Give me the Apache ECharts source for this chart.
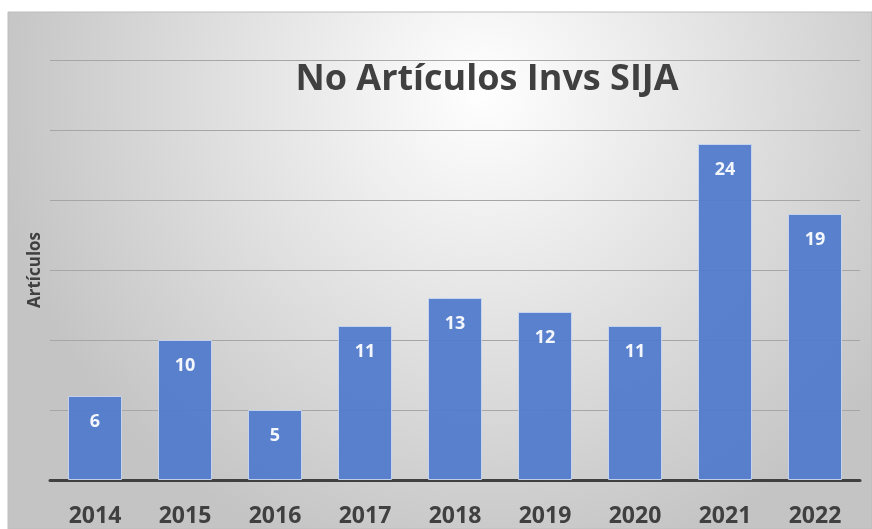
<!DOCTYPE html>
<html>
<head>
<meta charset="utf-8">
<script src="https://cdn.jsdelivr.net/npm/echarts@6/dist/echarts.min.js"></script>
<style>
  html, body { margin: 0; padding: 0; background: #fff; }
  #chart { width: 872px; height: 529px; }
</style>
</head>
<body>
<div id="chart"></div>
<script>
// datos del gráfico
var years = ['2014', '2015', '2016', '2017', '2018', '2019', '2020', '2021', '2022'];
var articulos = [6, 10, 5, 11, 13, 12, 11, 24, 19];
var titulo = 'No Artículos Invs SIJA';
var nombreEje = 'Artículos';

var chart = echarts.init(document.getElementById('chart'));
chart.setOption({
  backgroundColor: '#fff',
  animation: false,
  // fondo gris con degradado radial
  graphic: [{
    type: 'rect',
    z: -10,
    silent: true,
    shape: { x: 8, y: 12, width: 864, height: 517 },
    style: {
      fill: {
        type: 'radial', x: 0.55, y: 0.15, r: 0.95,
        colorStops: [
          { offset: 0, color: '#ffffff' },
          { offset: 1, color: '#c4c4c4' }
        ]
      },
      stroke: '#bdbdbd',
      lineWidth: 1
    }
  }],
  title: {
    text: titulo,
    left: 482,
    top: 57,
    textAlign: 'center',
    textStyle: {
      fontFamily: 'Open Sans',
      fontWeight: 'bold',
      fontSize: 36,
      color: '#404040'
    }
  },
  grid: { left: 50, right: 12, top: 60, bottom: 49 },
  xAxis: {
    type: 'category',
    data: years,
    axisTick: { show: false },
    axisLine: { lineStyle: { color: '#404040', width: 3 } },
    axisLabel: {
      margin: 25,
      fontFamily: 'Open Sans',
      fontWeight: 'bold',
      fontSize: 23,
      color: '#404040'
    }
  },
  yAxis: {
    type: 'value',
    min: 0,
    max: 30,
    interval: 5,
    name: nombreEje,
    nameLocation: 'middle',
    nameGap: 6,
    nameTextStyle: {
      fontFamily: 'Open Sans',
      fontWeight: 'bold',
      fontSize: 17,
      color: '#404040'
    },
    axisLabel: { show: false },
    axisLine: { show: false },
    axisTick: { show: false },
    splitLine: { lineStyle: { color: '#a6a6a6', width: 1 } }
  },
  series: [{
    type: 'bar',
    data: articulos,
    barWidth: '60%',
    itemStyle: {
      color: '#4f7acb',
      opacity: 0.93,
      borderColor: '#c9d6ee',
      borderWidth: 1
    },
    label: {
      show: true,
      position: 'insideTop',
      distance: 17,
      fontFamily: 'Open Sans',
      fontWeight: 'bold',
      fontSize: 18,
      color: '#ffffff'
    }
  }]
});
</script>
</body>
</html>
